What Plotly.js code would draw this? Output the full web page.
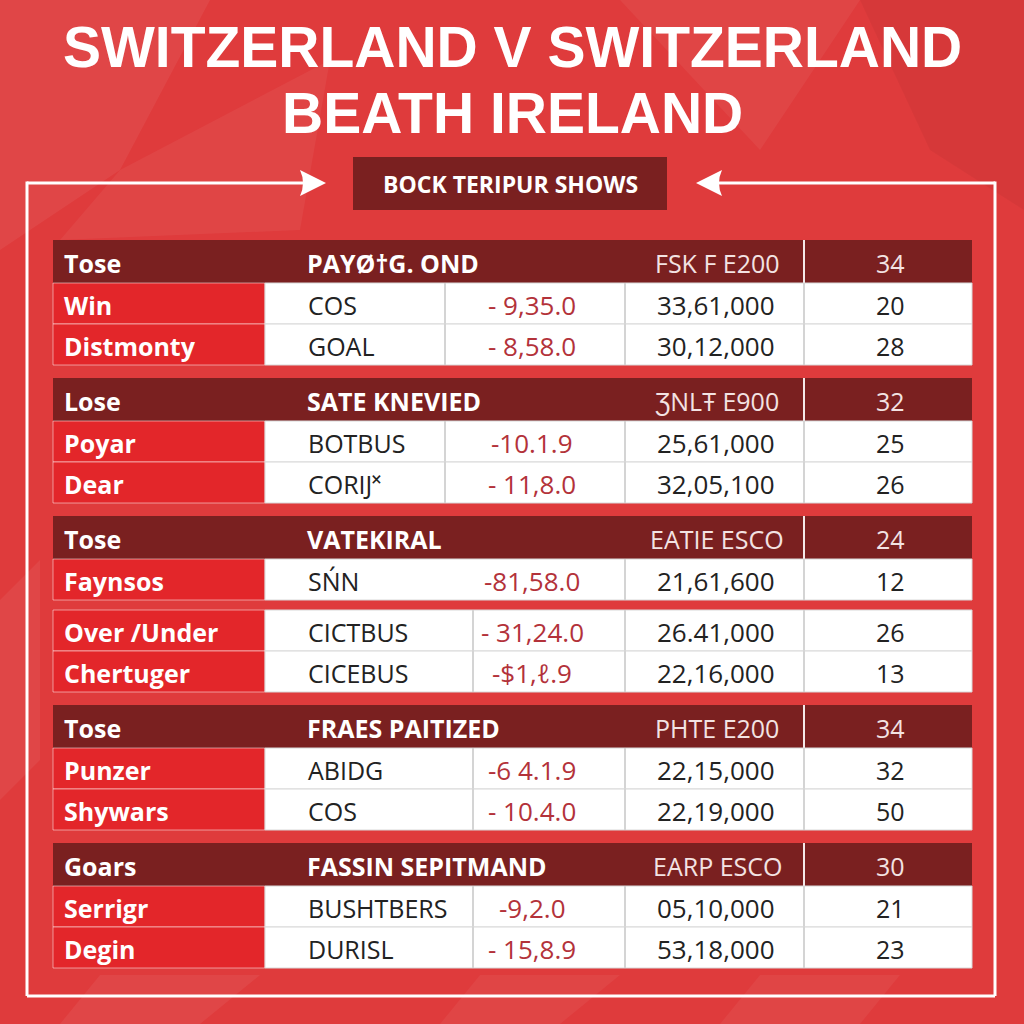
<!DOCTYPE html>
<html>
<head>
<meta charset="utf-8">
<script src="https://cdn.plot.ly/plotly-3.0.1.min.js"></script>
<style>
  html, body { margin: 0; padding: 0; background: #df3b3c; }
  #chart { width: 1024px; height: 1024px; }
</style>
</head>
<body>
<div id="chart"></div>
<script>
// Heading texts
const titleLines = ["SWITZERLAND V SWITZERLAND", "BEATH IRELAND"];
const subtitle = "BOCK TERIPUR SHOWS";

// Section header rows
const sectionLabels = ["Tose", "Lose", "Tose", "Tose", "Goars"];
const sectionTitles = ["PAYØ†G. OND", "SATE KNEVIED", "VATEKIRAL", "FRAES PAITIZED", "FASSIN SEPITMAND"];
const sectionCodes = ["FSK F E200", "ƷNLŦ E900", "EATIE ESCO", "PHTE E200", "EARP ESCO"];
const sectionTotals = [34, 32, 24, 34, 30];

// Data rows (section index says which block each row belongs to)
const rowSection = [0, 0, 1, 1, 2, 2, 2, 3, 3, 4, 4];
const rowLabels = ["Win", "Distmonty", "Poyar", "Dear", "Faynsos", "Over /Under", "Chertuger", "Punzer", "Shywars", "Serrigr", "Degin"];
const rowNames = ["COS", "GOAL", "BOTBUS", "CORIJ˟", "SŃN", "CICTBUS", "CICEBUS", "ABIDG", "COS", "BUSHTBERS", "DURISL"];
const rowOdds = ["- 9,35.0", "- 8,58.0", "-10.1.9", "- 11,8.0", "-81,58.0", "- 31,24.0", "-$1,ℓ.9", "-6 4.1.9", "- 10.4.0", "-9,2.0", "- 15,8.9"];
const rowAmounts = ["33,61,000", "30,12,000", "25,61,000", "32,05,100", "21,61,600", "26.41,000", "22,16,000", "22,15,000", "22,19,000", "05,10,000", "53,18,000"];
const rowCounts = [20, 28, 25, 26, 12, 26, 13, 32, 50, 21, 23];

// geometry (pixels, y grows downward)
const TABLE_TOP = 240, HEAD_H = 43, ROW_H = 41, SECTION_GAP = 13, SPLIT_GAP = 10;
const X_LEFT = 53, X_LABEL = 265, X_ODDS_A = 445, X_ODDS_B = 473, X_AMT = 625, X_CNT = 804, X_RIGHT = 972;
const splitRow = 5; // small red strip before this row

const BG = "#df3b3c";
const LABEL_RED = "#e3262a";
const DARK = "#7a2020";
const ODDS_RED = "#b3323a";
const INK = "#222222";

const shapes = [];
const annotations = [];

function rect(x0, y0, x1, y1, fill, line, lw) {
  shapes.push({type: "rect", xref: "x", yref: "y", x0: x0, y0: y0, x1: x1, y1: y1,
    fillcolor: fill, line: {color: line || fill, width: lw || 0}, layer: "below"});
}
function seg(x0, y0, x1, y1, color, w) {
  shapes.push({type: "line", xref: "x", yref: "y", x0: x0, y0: y0, x1: x1, y1: y1,
    line: {color: color, width: w}, layer: "below"});
}
function txt(x, y, text, size, color, opts) {
  opts = opts || {};
  annotations.push({xref: "x", yref: "y", x: x, y: y, text: text, showarrow: false,
    xanchor: opts.anchor || "center", yanchor: "middle",
    font: {family: opts.family || "Open Sans, sans-serif", size: size, color: color, weight: opts.weight || 400}});
}

// faint facets in the background
const facets = [
  ["M 0 0 L 210 0 L 120 170 L 0 250 Z", "rgba(255,255,255,0.06)"],
  ["M 120 170 L 330 60 L 300 230 L 60 240 Z", "rgba(255,255,255,0.05)"],
  ["M 620 0 L 860 0 L 760 150 Z", "rgba(255,255,255,0.05)"],
  ["M 860 0 L 1024 0 L 1024 210 L 930 150 Z", "rgba(0,0,0,0.04)"],
  ["M 0 600 L 40 560 L 40 760 L 0 800 Z", "rgba(255,255,255,0.06)"],
  ["M 100 975 L 260 975 L 200 1024 L 60 1024 Z", "rgba(255,255,255,0.06)"],
  ["M 480 975 L 620 975 L 560 1024 L 440 1024 Z", "rgba(255,255,255,0.05)"],
  ["M 760 975 L 900 975 L 860 1024 L 720 1024 Z", "rgba(255,255,255,0.05)"]
];
facets.forEach(f => shapes.push({type: "path", xref: "x", yref: "y", path: f[0], fillcolor: f[1], line: {width: 0}, layer: "below"}));

// frame and arrows
const FRAME_Y = 183, FRAME_L = 27, FRAME_R = 995, FRAME_B = 996;
seg(FRAME_L, FRAME_Y, 305, FRAME_Y, "white", 3);
seg(718, FRAME_Y, FRAME_R, FRAME_Y, "white", 3);
seg(FRAME_L, FRAME_Y - 1.5, FRAME_L, FRAME_B, "white", 3);
seg(FRAME_R, FRAME_Y - 1.5, FRAME_R, FRAME_B, "white", 3);
seg(FRAME_L, FRAME_B, FRAME_R, FRAME_B, "white", 3);
shapes.push({type: "path", xref: "x", yref: "y", path: "M 300 170 Q 306 183 300 196 L 326 183 Z", fillcolor: "white", line: {width: 0}});
shapes.push({type: "path", xref: "x", yref: "y", path: "M 722 170 Q 716 183 722 196 L 696 183 Z", fillcolor: "white", line: {width: 0}});

// subtitle box
rect(353, 157, 667, 210, DARK);
txt(510, 184, subtitle, 23, "white", {weight: 700});

// titles
txt(512, 47, titleLines[0], 57, "white", {family: "Liberation Sans, Arial, sans-serif", weight: 900});
txt(512, 113, titleLines[1], 57, "white", {family: "Liberation Sans, Arial, sans-serif", weight: 900});

// table
let y = TABLE_TOP;
let prevSection = -1;
rowSection.forEach((s, i) => {
  if (s !== prevSection) {
    if (prevSection >= 0) y += SECTION_GAP;
    // section header row
    rect(X_LEFT, y, X_RIGHT, y + HEAD_H, DARK);
    seg(X_CNT, y, X_CNT, y + HEAD_H, "#f4e8e8", 2);
    const cy = y + HEAD_H / 2 + 1;
    txt(X_LEFT + 9, cy, sectionLabels[s], 25, "white", {anchor: "left", weight: 700});
    txt(305, cy, sectionTitles[s], 25, "white", {anchor: "left", weight: 700});
    txt(717, cy, sectionCodes[s], 25, "#f3e3e3");
    txt((X_CNT + X_RIGHT) / 2 + 2, cy, String(sectionTotals[s]), 25, "#f3e3e3");
    y += HEAD_H;
    prevSection = s;
  }
  if (i === splitRow) y += SPLIT_GAP;
  const xOdds = s < 2 ? X_ODDS_A : X_ODDS_B;
  rect(X_LEFT, y, X_LABEL, y + ROW_H, LABEL_RED, "rgba(255,235,235,0.55)", 1);
  rect(X_LABEL, y, X_RIGHT, y + ROW_H, "white", "#d8d8d8", 1);
  if (i !== 4) seg(xOdds, y, xOdds, y + ROW_H, "#d4d4d4", 2);
  seg(X_AMT, y, X_AMT, y + ROW_H, "#d4d4d4", 2);
  seg(X_CNT, y, X_CNT, y + ROW_H, "#d4d4d4", 2);
  const cy = y + ROW_H / 2 + 1;
  txt(X_LEFT + 9, cy, rowLabels[i], 25, "white", {anchor: "left", weight: 700});
  txt(306, cy, rowNames[i], 25, INK, {anchor: "left"});
  txt(532, cy, rowOdds[i], 26, ODDS_RED);
  txt((X_AMT + X_CNT) / 2 + 1, cy, rowAmounts[i], 26, INK);
  txt((X_CNT + X_RIGHT) / 2 + 2, cy, String(rowCounts[i]), 25, INK);
  y += ROW_H;
});

const layout = {
  width: 1024,
  height: 1024,
  margin: {l: 0, r: 0, t: 0, b: 0},
  paper_bgcolor: BG,
  plot_bgcolor: BG,
  showlegend: false,
  xaxis: {range: [0, 1024], visible: false, fixedrange: true},
  yaxis: {range: [1024, 0], visible: false, fixedrange: true},
  shapes: shapes,
  annotations: annotations
};

Plotly.newPlot("chart", [], layout, {staticPlot: true});
</script>
</body>
</html>
